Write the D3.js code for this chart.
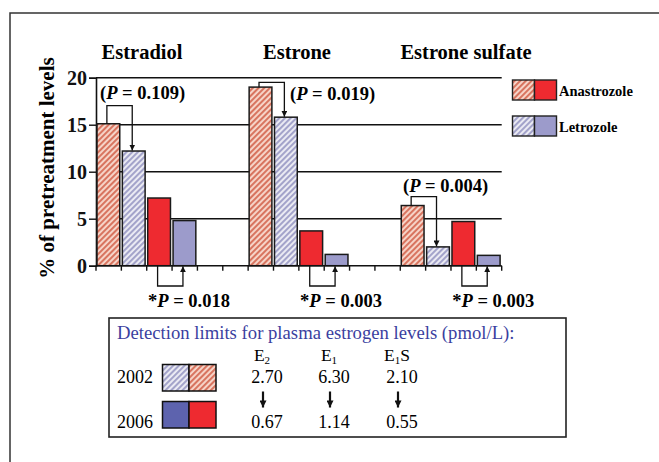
<!DOCTYPE html>
<html>
<head>
<meta charset="utf-8">
<script src="https://cdn.jsdelivr.net/npm/d3@7"></script>
<style>
  body { margin: 0; background: #fff; }
  svg text { font-family: "Liberation Serif", "Times New Roman", serif; }
</style>
</head>
<body>
<div id="chart"></div>
<script>
// data
var groups = ["Estradiol", "Estrone", "Estrone sulfate"];
var ana2002 = [15.1, 19.0, 6.4];
var let2002 = [12.2, 15.8, 2.0];
var ana2006 = [7.2, 3.7, 4.7];
var let2006 = [4.8, 1.2, 1.1];
var pHatched = ["0.109", "0.019", "0.004"];
var pSolid = ["0.018", "0.003", "0.003"];
var yTicks = [0, 5, 10, 15, 20];
var limitCols = ["E2", "E1", "E1S"];
var limits2002 = ["2.70", "6.30", "2.10"];
var limits2006 = ["0.67", "1.14", "0.55"];

var w = 659, h = 462;
var red = "#ee2a30", lav = "#9c9bcb", blueDark = "#5d63ae";

var svg = d3.select("#chart").append("svg")
    .attr("width", w)
    .attr("height", h);

// hatch patterns
var defs = svg.append("defs");
function hatch(id, bg, line) {
    var p = defs.append("pattern")
        .attr("id", id)
        .attr("patternUnits", "userSpaceOnUse")
        .attr("width", 4).attr("height", 4)
        .attr("patternTransform", "rotate(45)");
    p.append("rect").attr("width", 4).attr("height", 4).attr("fill", bg);
    p.append("line").attr("x1", 1).attr("y1", 0).attr("x2", 1).attr("y2", 4)
        .attr("stroke", line).attr("stroke-width", 2.1);
}
hatch("hRed", "#f7d6ca", "#d8745f");
hatch("hBlue", "#ececf4", "#a3a3ca");

var arrowHead = defs.append("marker")
    .attr("id", "arr")
    .attr("viewBox", "0 0 10 10")
    .attr("refX", 10).attr("refY", 5)
    .attr("markerWidth", 6).attr("markerHeight", 6)
    .attr("markerUnits", "userSpaceOnUse")
    .attr("orient", "auto");
arrowHead.append("path").attr("d", "M0,0L10,5L0,10Z").attr("fill", "#111");

var arrowBig = defs.append("marker")
    .attr("id", "arrBig")
    .attr("viewBox", "0 0 10 10")
    .attr("refX", 10).attr("refY", 5)
    .attr("markerWidth", 8).attr("markerHeight", 7)
    .attr("markerUnits", "userSpaceOnUse")
    .attr("orient", "auto");
arrowBig.append("path").attr("d", "M0,0L10,5L0,10Z").attr("fill", "#111");

// outer frame
svg.append("rect")
    .attr("x", 10).attr("y", 13)
    .attr("width", 700).attr("height", 500)
    .attr("fill", "none").attr("stroke", "#333").attr("stroke-width", 1.5);

var y = d3.scaleLinear().domain([0, 20]).range([265.7, 77.7]);
var slot = d3.scaleLinear().domain([0, 16]).range([96, 501.7]);
var step = slot(1) - slot(0);
var barW = step - 2.6;

// gridlines
svg.append("g").selectAll("line")
    .data(yTicks.filter(function (d) { return d > 0; }))
    .enter().append("line")
    .attr("x1", slot(0)).attr("x2", slot(16))
    .attr("y1", function (d) { return y(d); })
    .attr("y2", function (d) { return y(d); })
    .attr("stroke", "#111").attr("stroke-width", 1.4);

// y axis
var yAxis = svg.append("g")
    .attr("transform", "translate(" + slot(0) + ",0)")
    .call(d3.axisLeft(y).tickValues(yTicks).tickSize(7).tickPadding(2));
yAxis.select(".domain").attr("stroke", "#111").attr("stroke-width", 1.6);
yAxis.selectAll(".tick line").attr("stroke", "#111").attr("stroke-width", 1.4);
yAxis.selectAll("text")
    .attr("font-family", "Liberation Serif")
    .attr("font-size", "20px").attr("font-weight", "bold").attr("fill", "#111");

// bars
var bars = [];
groups.forEach(function (g, i) {
    var base = i * 6;
    bars.push({ s: base, v: ana2002[i], fill: "url(#hRed)" });
    bars.push({ s: base + 1, v: let2002[i], fill: "url(#hBlue)" });
    bars.push({ s: base + 2, v: ana2006[i], fill: red });
    bars.push({ s: base + 3, v: let2006[i], fill: lav });
});
svg.append("g").selectAll("rect")
    .data(bars)
    .enter().append("rect")
    .attr("x", function (d) { return slot(d.s) + 1; })
    .attr("y", function (d) { return y(d.v); })
    .attr("width", barW)
    .attr("height", function (d) { return y(0) - y(d.v); })
    .attr("fill", function (d) { return d.fill; })
    .attr("stroke", "#1a1a1a").attr("stroke-width", 1.5);

// x axis with ticks at every slot
var xg = svg.append("g");
xg.append("line")
    .attr("x1", slot(0)).attr("x2", slot(16))
    .attr("y1", y(0)).attr("y2", y(0))
    .attr("stroke", "#111").attr("stroke-width", 1.6);
xg.selectAll(".xt")
    .data(d3.range(17))
    .enter().append("line")
    .attr("x1", function (d) { return slot(d); })
    .attr("x2", function (d) { return slot(d); })
    .attr("y1", y(0)).attr("y2", y(0) + 5)
    .attr("stroke", "#111").attr("stroke-width", 1.4);

// group titles
var titleX = [142, 297, 466];
svg.append("g").selectAll("text")
    .data(groups)
    .enter().append("text")
    .attr("x", function (d, i) { return titleX[i]; })
    .attr("y", 59)
    .attr("text-anchor", "middle")
    .attr("font-size", "20.5px").attr("font-weight", "bold")
    .text(function (d) { return d; });

// y label
svg.append("text")
    .attr("transform", "translate(54,168) rotate(-90)")
    .attr("text-anchor", "middle")
    .attr("font-size", "21px").attr("font-weight", "bold")
    .text("% of pretreatment levels");

function barCx(s) { return slot(s) + 1 + barW / 2 - 1.5; }

function pLabel(x, yy, val, anchor, star, paren) {
    var t = svg.append("text")
        .attr("x", x).attr("y", yy)
        .attr("text-anchor", anchor)
        .attr("font-size", "18.5px").attr("font-weight", "bold");
    if (star) t.append("tspan").text("*");
    if (paren) t.append("tspan").text("(");
    t.append("tspan").attr("font-style", "italic").text("P");
    t.append("tspan").text(" = " + val + (paren ? ")" : ""));
}

// hatched comparisons (above bars)
var topLevel = [105.7, 82.3, 196.7];
var topText = [{ x: 100, y: 99 }, { x: 290, y: 100 }, { x: 403, y: 192 }];
groups.forEach(function (g, i) {
    var x1 = barCx(i * 6), x2 = barCx(i * 6 + 1);
    svg.append("path")
        .attr("d", "M" + x1 + "," + y(ana2002[i]) + "V" + topLevel[i] + "H" + x2 + "V" + (y(let2002[i]) - 0.5))
        .attr("fill", "none").attr("stroke", "#111").attr("stroke-width", 1.3)
        .attr("marker-end", "url(#arr)");
    pLabel(topText[i].x, topText[i].y, pHatched[i], "start", false, true);
});

// solid comparisons (below axis)
groups.forEach(function (g, i) {
    var x1 = barCx(i * 6 + 2), x2 = barCx(i * 6 + 3);
    svg.append("path")
        .attr("d", "M" + x1 + "," + y(0) + "V286H" + x2 + "V" + (y(0) + 0.5))
        .attr("fill", "none").attr("stroke", "#111").attr("stroke-width", 1.3)
        .attr("marker-end", "url(#arr)");
    pLabel(x2 + 6, 306.5, pSolid[i], "middle", true, false);
});

// legend
var legend = [
    { name: "Anastrozole", hatch: "url(#hRed)", solid: red, y: 80 },
    { name: "Letrozole", hatch: "url(#hBlue)", solid: lav, y: 116 }
];
legend.forEach(function (d) {
    svg.append("rect").attr("x", 512.5).attr("y", d.y).attr("width", 22).attr("height", 20)
        .attr("fill", d.hatch).attr("stroke", "#222").attr("stroke-width", 1.4);
    svg.append("rect").attr("x", 534.5).attr("y", d.y).attr("width", 22).attr("height", 20)
        .attr("fill", d.solid).attr("stroke", "#222").attr("stroke-width", 1.4);
    svg.append("text").attr("x", 559).attr("y", d.y + 16)
        .attr("font-size", "14.5px").attr("font-weight", "bold").text(d.name);
});

// detection limits box
var box = svg.append("g");
box.append("rect")
    .attr("x", 109).attr("y", 318).attr("width", 457).attr("height", 119)
    .attr("fill", "#fff").attr("stroke", "#222").attr("stroke-width", 1.6);
box.append("text")
    .attr("x", 117).attr("y", 338.5)
    .attr("font-size", "18.7px").attr("fill", "#3b3f9f")
    .text("Detection limits for plasma estrogen levels (pmol/L):");

var colX = [267, 334, 402];
var rowY = { head: 361, r2002: 383, r2006: 428 };
limitCols.forEach(function (c, i) {
    var t = box.append("text")
        .attr("x", colX[i] - 5).attr("y", rowY.head)
        .attr("text-anchor", "middle").attr("font-size", "17.5px");
    t.append("tspan").text(c[0]);
    t.append("tspan").attr("font-size", "11px").attr("dy", 3).text(c[1]);
    if (c.length > 2) t.append("tspan").attr("dy", -3).text(c.slice(2));
    box.append("text").attr("x", colX[i]).attr("y", rowY.r2002)
        .attr("text-anchor", "middle").attr("font-size", "18px").text(limits2002[i]);
    box.append("text").attr("x", colX[i]).attr("y", rowY.r2006)
        .attr("text-anchor", "middle").attr("font-size", "18px").text(limits2006[i]);
    box.append("line")
        .attr("x1", colX[i] - 4).attr("x2", colX[i] - 4)
        .attr("y1", 391.5).attr("y2", 407.5)
        .attr("stroke", "#111").attr("stroke-width", 2.2)
        .attr("marker-end", "url(#arrBig)");
});

var years = [
    { label: "2002", y: 364.5, left: "url(#hBlue)", right: "url(#hRed)", base: rowY.r2002 },
    { label: "2006", y: 401.5, left: blueDark, right: red, base: rowY.r2006 }
];
years.forEach(function (d) {
    box.append("text").attr("x", 117).attr("y", d.base).attr("font-size", "18px").text(d.label);
    box.append("rect").attr("x", 162.5).attr("y", d.y).attr("width", 26.5).attr("height", 26.5)
        .attr("fill", d.left).attr("stroke", "#111").attr("stroke-width", 1.5);
    box.append("rect").attr("x", 189).attr("y", d.y).attr("width", 27).attr("height", 26.5)
        .attr("fill", d.right).attr("stroke", "#111").attr("stroke-width", 1.5);
});
</script>
</body>
</html>
